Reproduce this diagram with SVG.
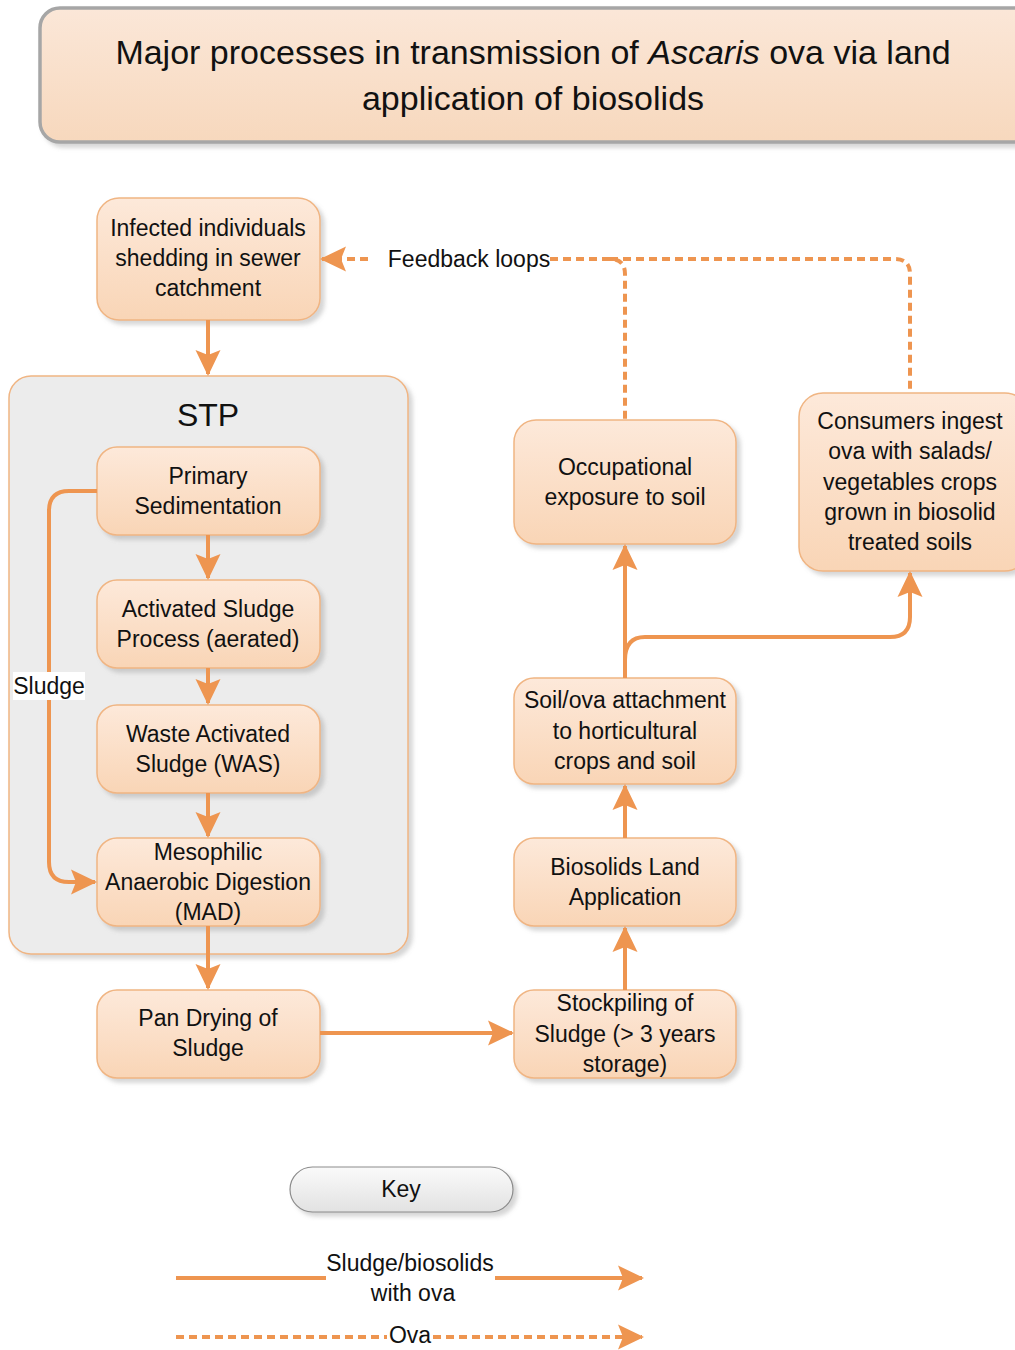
<svg xmlns="http://www.w3.org/2000/svg" width="1015" height="1350" viewBox="0 0 1015 1350">
<defs>
  <linearGradient id="peach" x1="0" y1="0" x2="0" y2="1">
    <stop offset="0" stop-color="#fde9da"/>
    <stop offset="1" stop-color="#f9d5b6"/>
  </linearGradient>
  <linearGradient id="titleg" x1="0" y1="0" x2="0" y2="1">
    <stop offset="0" stop-color="#fbe7d8"/>
    <stop offset="1" stop-color="#f7d8bd"/>
  </linearGradient>
  <linearGradient id="keyg" x1="0" y1="0" x2="0" y2="1">
    <stop offset="0" stop-color="#fafafa"/>
    <stop offset="1" stop-color="#e2e2e2"/>
  </linearGradient>
  <filter id="sh" x="-10%" y="-10%" width="130%" height="130%">
    <feDropShadow dx="4" dy="4" stdDeviation="2" flood-color="#888" flood-opacity="0.35"/>
  </filter>
  <marker id="ah" markerUnits="userSpaceOnUse" markerWidth="28" markerHeight="28" viewBox="0 0 28 28" refX="24" refY="14" orient="auto">
    <path d="M0,1.5 L26,14 L0,26.5 L5,14 Z" fill="#ee9550"/>
  </marker>
</defs>
<style>
  .node { fill: url(#peach); stroke: #f0b583; stroke-width: 1.5; filter: url(#sh); }
  .t { font-family: "Liberation Sans", Arial, sans-serif; font-size: 23px; fill: #111; text-anchor: middle; dominant-baseline: central; }
  .ln { fill: none; stroke: #ee9550; stroke-width: 4; }
  .ar { marker-end: url(#ah); }
  .dash { fill: none; stroke: #ee9550; stroke-width: 4; stroke-dasharray: 8 5; }
</style>
<rect width="1015" height="1350" fill="#ffffff"/>

<g id="title">
  <rect x="40" y="8" width="995" height="134" rx="20" fill="url(#titleg)" stroke="#a6a6a6" stroke-width="3.5" filter="url(#sh)"/>
  <text class="t" x="533" y="52" style="font-size:34px">Major processes in transmission of <tspan font-style="italic">Ascaris</tspan> ova via land</text>
  <text class="t" x="533" y="98" style="font-size:34px">application of biosolids</text>
</g>

<g id="stp">
  <rect x="9" y="376" width="399" height="578" rx="22" fill="#ececec" stroke="#f0b583" stroke-width="1.5" filter="url(#sh)"/>
  <text class="t" x="208" y="415" style="font-size:32px">STP</text>
</g>

<g id="infected">
  <rect class="node" x="97" y="198" width="223" height="122" rx="22"/>
  <text class="t" x="208" y="228">Infected individuals</text>
  <text class="t" x="208" y="258">shedding in sewer</text>
  <text class="t" x="208" y="288">catchment</text>
</g>
<g id="primary">
  <rect class="node" x="97" y="447" width="223" height="88" rx="20"/>
  <text class="t" x="208" y="476">Primary</text>
  <text class="t" x="208" y="506">Sedimentation</text>
</g>
<g id="activated">
  <rect class="node" x="97" y="580" width="223" height="88" rx="20"/>
  <text class="t" x="208" y="609">Activated Sludge</text>
  <text class="t" x="208" y="639">Process (aerated)</text>
</g>
<g id="was">
  <rect class="node" x="97" y="705" width="223" height="88" rx="20"/>
  <text class="t" x="208" y="734">Waste Activated</text>
  <text class="t" x="208" y="764">Sludge (WAS)</text>
</g>
<g id="mad">
  <rect class="node" x="97" y="838" width="223" height="88" rx="20"/>
  <text class="t" x="208" y="852">Mesophilic</text>
  <text class="t" x="208" y="882">Anaerobic Digestion</text>
  <text class="t" x="208" y="912">(MAD)</text>
</g>
<g id="pan">
  <rect class="node" x="97" y="990" width="223" height="88" rx="20"/>
  <text class="t" x="208" y="1018">Pan Drying of</text>
  <text class="t" x="208" y="1048">Sludge</text>
</g>
<g id="stockpile">
  <rect class="node" x="514" y="990" width="222" height="88" rx="20"/>
  <text class="t" x="625" y="1003">Stockpiling of</text>
  <text class="t" x="625" y="1034">Sludge (&gt; 3 years</text>
  <text class="t" x="625" y="1064">storage)</text>
</g>
<g id="landapp">
  <rect class="node" x="514" y="838" width="222" height="88" rx="20"/>
  <text class="t" x="625" y="867">Biosolids Land</text>
  <text class="t" x="625" y="897">Application</text>
</g>
<g id="soilova">
  <rect class="node" x="514" y="678" width="222" height="106" rx="20"/>
  <text class="t" x="625" y="700">Soil/ova attachment</text>
  <text class="t" x="625" y="731">to horticultural</text>
  <text class="t" x="625" y="761">crops and soil</text>
</g>
<g id="occupational">
  <rect class="node" x="514" y="420" width="222" height="124" rx="22"/>
  <text class="t" x="625" y="467">Occupational</text>
  <text class="t" x="625" y="497">exposure to soil</text>
</g>
<g id="consumers">
  <rect class="node" x="799" y="393" width="230" height="178" rx="24"/>
  <text class="t" x="910" y="421">Consumers ingest</text>
  <text class="t" x="910" y="451">ova with salads/</text>
  <text class="t" x="910" y="482">vegetables crops</text>
  <text class="t" x="910" y="512">grown in biosolid</text>
  <text class="t" x="910" y="542">treated soils</text>
</g>

<g id="connectors">
  <path class="ln ar" d="M208,320 V374"/>
  <path class="ln ar" d="M208,535 V578"/>
  <path class="ln ar" d="M208,668 V703"/>
  <path class="ln ar" d="M208,793 V836"/>
  <path class="ln ar" d="M97,491 H69 Q49,491 49,511 V862 Q49,882 69,882 H95"/>
  <path class="ln ar" d="M208,926 V988"/>
  <path class="ln ar" d="M320,1033 H512"/>
  <path class="ln ar" d="M625,990 V928"/>
  <path class="ln ar" d="M625,838 V786"/>
  <path class="ln ar" d="M625,678 V546"/>
  <path class="ln ar" d="M625,660 Q625,637 645,637 H890 Q910,637 910,617 V573"/>
  <path class="dash ar" d="M368,259 H322"/>
  <path class="dash" d="M550,259 H610 Q625,259 625,274 V420"/>
  <path class="dash" d="M610,259 H895 Q910,259 910,274 V393"/>
  <g id="sludge-label">
    <rect x="13" y="672" width="72" height="28" fill="#ffffff"/>
    <text class="t" x="49" y="686">Sludge</text>
  </g>
  <text class="t" x="469" y="259">Feedback loops</text>
</g>

<g id="key">
  <rect x="290" y="1167" width="223" height="45" rx="22.5" fill="url(#keyg)" stroke="#8c8c8c" stroke-width="1.2" filter="url(#sh)"/>
  <text class="t" x="401" y="1189">Key</text>
  <path class="ln" d="M176,1278 H326"/>
  <path class="ln ar" d="M495,1278 H642"/>
  <text class="t" x="410" y="1263">Sludge/biosolids</text>
  <text class="t" x="413" y="1293">with ova</text>
  <path class="dash" d="M176,1337 H387"/>
  <path class="dash ar" d="M433,1337 H642"/>
  <text class="t" x="410" y="1335">Ova</text>
</g>
</svg>
